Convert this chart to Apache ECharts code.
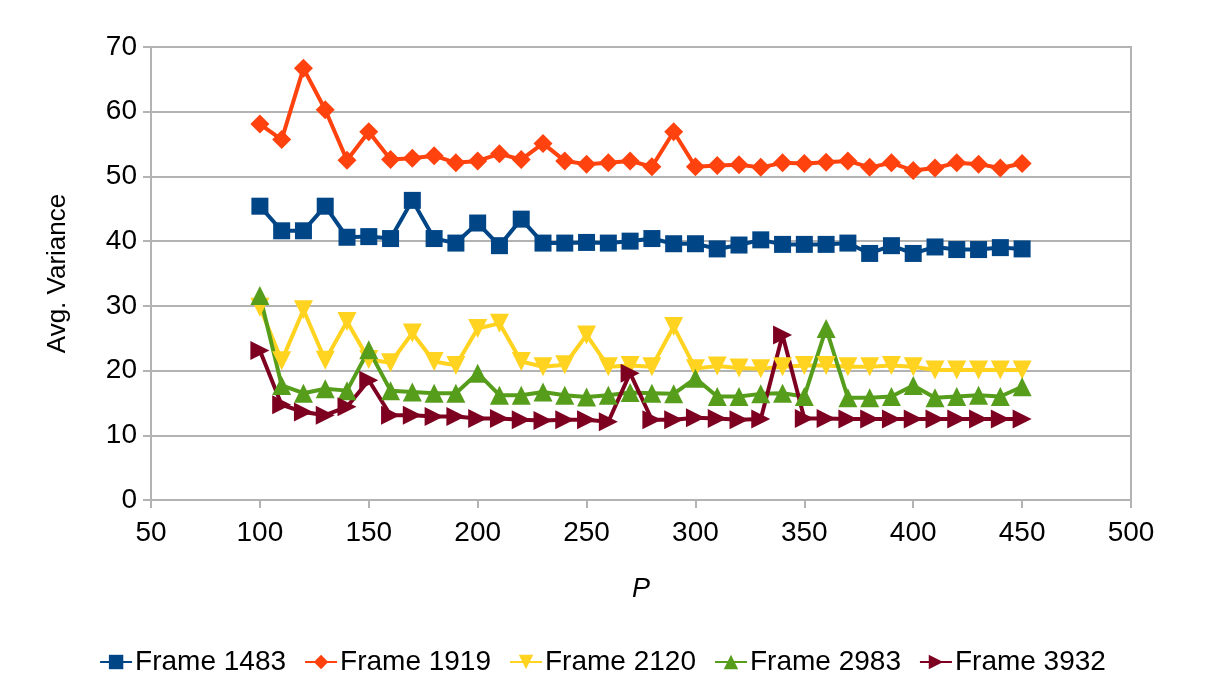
<!DOCTYPE html>
<html>
<head>
<meta charset="utf-8">
<script src="https://cdn.jsdelivr.net/npm/echarts@6/dist/echarts.min.js"></script>
<style>html,body{margin:0;padding:0;background:#fff}#c{width:1205px;height:680px}</style>
</head>
<body>
<div id="c"></div>
<script>
const pValues = [100,110,120,130,140,150,160,170,180,190,200,210,220,230,240,250,260,270,280,290,300,310,320,330,340,350,360,370,380,390,400,410,420,430,440,450];
const frame1483 = [45.4,41.6,41.6,45.4,40.6,40.7,40.4,46.3,40.4,39.7,42.8,39.3,43.4,39.7,39.7,39.8,39.7,40.0,40.4,39.6,39.6,38.8,39.4,40.2,39.5,39.5,39.5,39.7,38.1,39.3,38.1,39.1,38.7,38.7,39.0,38.8];
const frame1919 = [58.1,55.7,66.7,60.3,52.5,56.9,52.6,52.8,53.2,52.1,52.4,53.5,52.6,55.1,52.4,51.9,52.1,52.4,51.5,56.9,51.5,51.7,51.8,51.4,52.1,52.0,52.2,52.4,51.4,52.1,50.9,51.3,52.1,51.9,51.3,52.0];
const frame2120 = [29.8,21.5,29.4,21.6,27.6,21.7,21.2,25.8,21.4,20.8,26.5,27.3,21.4,20.6,20.9,25.5,20.6,20.8,20.6,26.8,20.3,20.7,20.4,20.3,20.6,20.8,20.8,20.6,20.6,20.8,20.6,20.1,20.1,20.1,20.1,20.1];
const frame2983 = [31.6,17.7,16.5,17.2,16.9,23.2,16.9,16.7,16.5,16.5,19.6,16.2,16.2,16.7,16.2,15.9,16.2,16.6,16.5,16.4,18.8,16.0,16.0,16.4,16.5,16.0,26.5,15.8,15.8,16.0,17.7,15.8,16.0,16.2,16.0,17.5];
const frame3932 = [23.1,14.7,13.6,13.1,14.4,18.5,13.1,13.1,12.9,12.9,12.6,12.6,12.4,12.3,12.4,12.4,12.1,19.6,12.4,12.4,12.7,12.6,12.4,12.5,25.5,12.6,12.6,12.5,12.5,12.5,12.5,12.5,12.5,12.5,12.5,12.5];
const xTicks = [50,100,150,200,250,300,350,400,450,500];
const yTicks = [0,10,20,30,40,50,60,70];

const font = 'Liberation Sans, Arial, sans-serif';
function pts(arr){ return arr.map((v,i)=>[pValues[i], v]); }
function mk(name, arr, color, symbol, size, rot){
  return {
    name, type:'line', data: pts(arr), color,
    symbol, symbolSize: size, symbolRotate: rot || 0,
    lineStyle:{width:4, color},
    itemStyle:{color},
    emphasis:{disabled:true},
    animation:false
  };
}
const chart = echarts.init(document.getElementById('c'), null, {renderer:'canvas'});
chart.setOption({
  backgroundColor:'#fff',
  animation:false,
  grid:{left:151, right:74, top:47, bottom:180, show:true, borderColor:'#b3b3b3', borderWidth:2, containLabel:false},
  xAxis:{
    type:'value', min:xTicks[0], max:xTicks[xTicks.length-1], interval:50,
    name:'P', nameLocation:'middle', nameGap:76,
    nameTextStyle:{fontFamily:font, fontSize:27, fontStyle:'italic', color:'#000'},
    axisLine:{show:true, onZero:false, lineStyle:{color:'#b3b3b3', width:2}},
    axisTick:{show:true, length:8, lineStyle:{color:'#b3b3b3', width:2}},
    axisLabel:{fontFamily:font, fontSize:28, color:'#000', margin:19},
    splitLine:{show:false}
  },
  yAxis:{
    type:'value', min:yTicks[0], max:yTicks[yTicks.length-1], interval:10,
    name:'Avg. Variance', nameLocation:'middle', nameGap:80, nameRotate:90,
    nameTextStyle:{fontFamily:font, fontSize:26, color:'#000'},
    axisLine:{show:true, lineStyle:{color:'#b3b3b3', width:2}},
    axisTick:{show:true, length:8, lineStyle:{color:'#b3b3b3', width:2}},
    axisLabel:{fontFamily:font, fontSize:28, color:'#000', margin:14},
    splitLine:{show:true, lineStyle:{color:'#b3b3b3', width:2}}
  },
  legend:{
    top:643, left:'center', itemWidth:32, itemHeight:18, itemGap:18,
    textStyle:{fontFamily:font, fontSize:28, color:'#000', padding:[0,0,0,-2]},
    data:['Frame 1483','Frame 1919','Frame 2120','Frame 2983','Frame 3932']
  },
  series:[
    mk('Frame 1483', frame1483, '#004586', 'rect', 17),
    mk('Frame 1919', frame1919, '#ff420e', 'diamond', 19),
    mk('Frame 2120', frame2120, '#ffd320', 'triangle', 19, 180),
    mk('Frame 2983', frame2983, '#579d1c', 'triangle', 19),
    mk('Frame 3932', frame3932, '#7e0021', 'triangle', 19, -90)
  ]
});
</script>
</body>
</html>
